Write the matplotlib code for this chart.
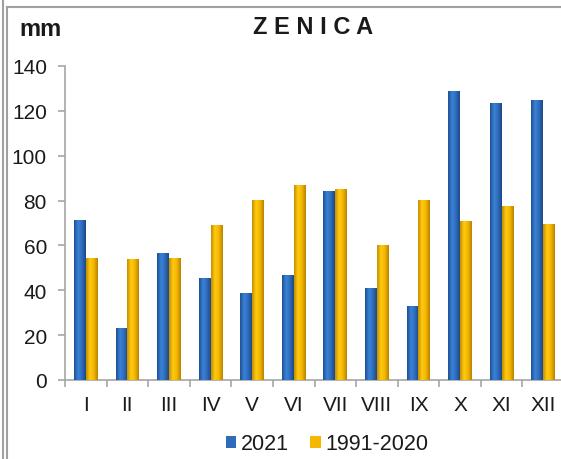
import matplotlib
matplotlib.use("Agg")
import matplotlib.pyplot as plt
import numpy as np
from matplotlib.colors import LinearSegmentedColormap
from matplotlib.lines import Line2D

months = ["I", "II", "III", "IV", "V", "VI", "VII", "VIII", "IX", "X", "XI", "XII"]
rain_2021 = [71.5, 23.0, 56.7, 45.5, 38.8, 46.8, 84.3, 40.9, 32.8, 128.8, 123.6, 124.8]
rain_norm = [54.3, 53.8, 54.2, 69.3, 80.4, 86.9, 85.0, 60.3, 80.4, 70.7, 77.6, 69.5]

W, H = 561, 460
plt.rcParams["font.family"] = ["Liberation Sans", "DejaVu Sans"]

fig = plt.figure(figsize=(W / 100, H / 100), dpi=100)
ax = fig.add_axes([65 / W, 1 - 381 / H, (564 - 65) / W, (381 - 67) / H])

x = np.arange(len(months))
bw = 0.285
blue_cmap = LinearSegmentedColormap.from_list("b", ["#1d4d8f", "#3a82d6", "#2f6dbd", "#1c4785"])
yel_cmap = LinearSegmentedColormap.from_list("y", ["#c48c00", "#ffcc10", "#f2b600", "#b98200"])

bars_b = ax.bar(x - bw / 2, rain_2021, bw, color="#2e6bb8", label="2021", zorder=2)
bars_y = ax.bar(x + bw / 2, rain_norm, bw, color="#f5b800", label="1991-2020", zorder=2)

grad = np.linspace(0, 1, 64).reshape(1, -1)
for bars, cmap in ((bars_b, blue_cmap), (bars_y, yel_cmap)):
    for b in bars:
        x0, w, h = b.get_x(), b.get_width(), b.get_height()
        im = ax.imshow(grad, cmap=cmap, aspect="auto", extent=(x0, x0 + w, 0, h),
                       zorder=3, interpolation="bicubic")
        im.set_clip_path(b)

ax.set_xlim(-0.5, len(months) - 0.5)
ax.set_ylim(0, 140)
ax.set_yticks(np.arange(0, 141, 20))
ax.set_xticks(np.arange(len(months) + 1) - 0.5)
ax.set_xticklabels([])
ax.set_xticks(x, minor=True)
ax.set_xticklabels(months, minor=True)

for s in ("top", "right"):
    ax.spines[s].set_visible(False)
for s in ("left", "bottom"):
    ax.spines[s].set_color("#a6a6a6")
    ax.spines[s].set_linewidth(1.2)
ax.tick_params(axis="y", length=5, color="#a6a6a6", width=1.2, labelsize=15, pad=8,
               labelcolor="#1a1a1a")
ax.tick_params(axis="x", which="major", length=5, color="#a6a6a6", width=1.2)
ax.tick_params(axis="x", which="minor", length=0, labelsize=15, pad=11, labelcolor="#1a1a1a")

fig.text(313 / W, 1 - 28 / H, "Z E N I C A", ha="center", va="center",
         fontsize=17, fontweight="bold", color="#1a1a1a")
fig.text(19 / W, 1 - 30 / H, "mm", ha="left", va="center",
         fontsize=17, fontweight="bold", color="#1a1a1a")

leg = fig.legend(handles=[bars_b, bars_y], labels=["2021", "1991-2020"],
                 loc="center", bbox_to_anchor=(327 / W, 1 - 445 / H), ncol=2,
                 frameon=False, fontsize=15.5, handlelength=0.5, handleheight=0.5,
                 handletextpad=0.2, columnspacing=1.0)
for t in leg.get_texts():
    t.set_color("#1a1a1a")

# outer frame lines
fig.add_artist(Line2D([2.5 / W, 2.5 / W], [0, 1], color="#a0a0a0", lw=1.5))
fig.add_artist(Line2D([6.5 / W, 6.5 / W], [0, 1 - 8 / H], color="#a0a0a0", lw=1.5))
fig.add_artist(Line2D([6.5 / W, 1], [1 - 8 / H, 1 - 8 / H], color="#a0a0a0", lw=1.5))

fig.savefig("out.png", dpi=100)
